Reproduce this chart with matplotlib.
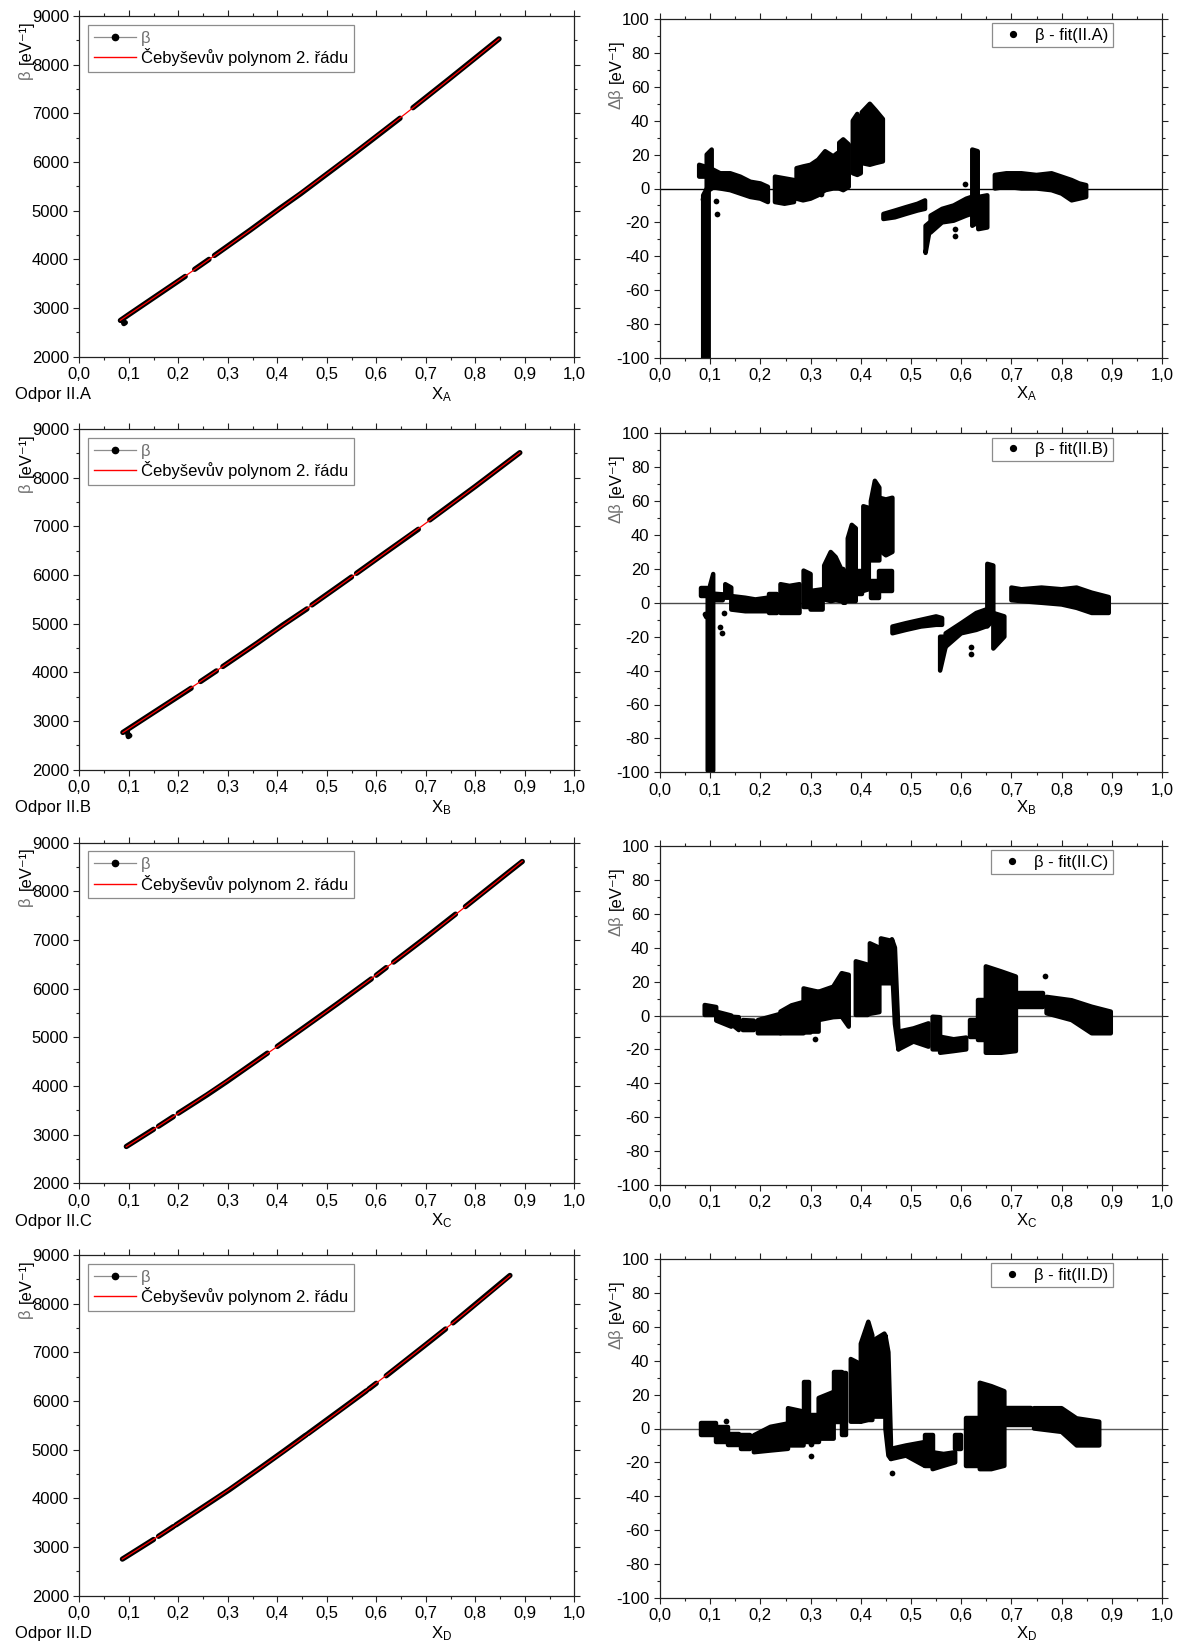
import numpy as np
import matplotlib
matplotlib.use("Agg")
import matplotlib.pyplot as plt
from matplotlib.lines import Line2D
from matplotlib.ticker import MultipleLocator, FuncFormatter

nan = np.nan

plt.rcParams["font.family"] = ["Liberation Sans", "DejaVu Sans"]
plt.rcParams["mathtext.default"] = "regular"
plt.rcParams["font.size"] = 12

panels = ["A", "B", "C", "D"]

# ---- beta(X) runs, NaN separates runs ----
beta_x_A = [0.083, 0.100, 0.150, 0.214, nan, 0.233, 0.262, nan, 0.273, 0.3455, 0.4055,
            0.4467, 0.5535, 0.648, nan, 0.674, 0.749, 0.848]
beta_y_A = [2745, 2865, 3210, 3650, nan, 3795, 4000, nan, 4080, 4603, 5050,
            5345, 6160, 6900, nan, 7115, 7720, 8530]
dip_x_A = [0.088, 0.090, 0.093]
dip_y_A = [2745, 2680, 2700]

beta_x_B = [0.088, 0.150, 0.226, nan, 0.245, 0.277, nan, 0.290, 0.360, 0.411, 0.460, nan,
            0.470, 0.550, nan, 0.560, 0.620, 0.685, nan, 0.708, 0.800, 0.890]
beta_y_B = [2765, 3175, 3675, nan, 3812, 4030, nan, 4120, 4605, 4972, 5305, nan,
            5385, 5960, nan, 6035, 6472, 6940, nan, 7131, 7820, 8514]
dip_x_B = [0.097, 0.099, 0.102]
dip_y_B = [2790, 2680, 2700]

beta_x_C = [0.095, 0.150, nan, 0.160, 0.190, nan, 0.200, 0.2578, 0.298, 0.380, nan,
            0.400, 0.449, 0.520, 0.590, nan, 0.600, 0.620, nan, 0.635, 0.700, 0.760, nan,
            0.780, 0.8687, 0.895]
beta_y_C = [2756, 3110, nan, 3172, 3370, nan, 3440, 3815, 4090, 4675, nan,
            4812, 5165, 5680, 6200, nan, 6275, 6432, nan, 6545, 7050, 7530, nan,
            7685, 8402, 8612]

beta_x_D = [0.087, 0.150, nan, 0.160, 0.190, nan, 0.195, 0.303, 0.369, 0.415, 0.4576, nan,
            0.462, 0.5694, 0.580, nan, 0.585, 0.600, nan, 0.620, 0.6968, 0.740, nan,
            0.755, 0.870]
beta_y_D = [2752, 3155, nan, 3220, 3420, nan, 3452, 4176, 4650, 4985, 5300, nan,
            5330, 6130, 6210, nan, 6248, 6365, nan, 6518, 7132, 7480, nan,
            7605, 8580]

# ---- residuals beta - fit: low/high envelope of each dense run ----
res_x_A = [0.078, 0.089, nan, 0.086, 0.097, nan, 0.093, 0.103, nan,
           0.100, 0.120, 0.140, 0.160, 0.180, 0.200, 0.215, nan,
           0.229, 0.248, 0.267, nan,
           0.272, 0.285, 0.300, 0.315, 0.329, 0.345, 0.354, nan,
           0.357, 0.365, 0.376, nan, 0.384, 0.393, 0.400, nan,
           0.402, 0.418, 0.430, 0.444, nan,
           0.445, 0.468, 0.490, 0.513, 0.528, nan, 0.529, 0.537, nan,
           0.539, 0.562, 0.585, 0.610, 0.620, nan, 0.622, 0.633, nan, 0.634, 0.652, nan,
           0.667, 0.690, 0.720, 0.750, 0.780, 0.800, 0.820, 0.835, 0.849]
res_lo_A = [7, 7, nan, -100, -100, nan, -2, 0, nan,
            1, 0, -1, -3, -5, -6, -8, nan,
            -8, -9, -8, nan,
            -6, -7, -6, -4, -1, 0, 0, nan,
            0, -1, 1, nan, 9, 8, 9, nan,
            15, 14, 15, 16, nan,
            -18, -17, -15, -13, -12, nan, -38, -25, nan,
            -26, -20, -19, -16, -15, nan, -22, -20, nan, -24, -23, nan,
            0, 1, 0, 0, -1, -3, -7, -6, -5]
res_hi_A = [14, 13, nan, -4, 2, nan, 20, 23, nan,
            12, 9, 9, 7, 4, 3, 1, nan,
            7, 6, 5, nan,
            12, 13, 14, 17, 22, 19, 21, nan,
            27, 29, 26, nan, 40, 44, 40, nan,
            45, 50, 46, 41, nan,
            -15, -13, -11, -9, -7, nan, -22, -20, nan,
            -16, -12, -10, -6, -5, nan, 23, 22, nan, -5, -4, nan,
            8, 9, 9, 8, 9, 7, 5, 3, 2]
out_x_A = [0.085, 0.112, 0.114, 0.320, 0.588, 0.588, 0.607]
out_y_A = [-6, -7.5, -15, -3.5, -24, -28, 2.4]

res_x_B = [0.082, 0.093, nan, 0.095, 0.106, nan, 0.106, 0.125, nan, 0.130, 0.142, nan,
           0.142, 0.170, 0.190, 0.214, nan, 0.218, 0.233, nan, 0.240, 0.258, 0.278, nan,
           0.286, 0.300, nan, 0.300, 0.324, nan, 0.327, 0.340, 0.350, 0.361, nan,
           0.365, 0.369, nan, 0.374, 0.382, 0.390, nan, 0.390, 0.403, nan,
           0.405, 0.416, nan, 0.420, 0.437, nan, 0.420, 0.428, 0.437, nan,
           0.437, 0.450, 0.463, nan, 0.437, 0.463, nan,
           0.463, 0.490, 0.520, 0.550, 0.562, nan, 0.558, 0.569, nan,
           0.569, 0.600, 0.630, 0.649, nan, 0.652, 0.664, nan, 0.664, 0.686, nan,
           0.700, 0.720, 0.760, 0.800, 0.830, 0.860, 0.894]
res_lo_B = [4, 4, nan, -99, -99, nan, 1.5, 1.5, nan, 3, 3, nan,
            -4, -5, -5, -5, nan, -6, -6, nan, -6, -6, -6, nan,
            -2.5, -2.5, nan, -4, -4, nan, 2, 1, 1.5, 1, nan,
            0, 0, nan, 1, 1, 1, nan, 5, 5, nan,
            7, 8, nan, 3, 3, nan, 25, 25, 25, nan,
            31, 28, 30, nan, 7, 7, nan,
            -18, -16, -14, -13, -13, nan, -40, -26, nan,
            -26, -18, -16, -14, nan, -14, -10, nan, -27, -20, nan,
            1.5, 1, 0, -1, -3, -6, -6]
res_hi_B = [9, 9, nan, 5, 17, nan, 5.4, 5, nan, 11, 9, nan,
            4, 3, 2, 3, nan, 5, 5, nan, 11, 10, 11, nan,
            19, 17, nan, 7, 8, nan, 22, 30, 27, 20, nan,
            20, 18, nan, 38, 46, 44, nan, 19, 19, nan,
            57, 56, nan, 13, 13, nan, 60, 72, 68, nan,
            62, 61, 62, nan, 19, 19, nan,
            -14, -12, -10, -8, -9, nan, -20, -20, nan,
            -18, -12, -6, -4, nan, 23, 22, nan, -6, -8, nan,
            9, 8, 9, 8, 9, 6, 3.4]
out_x_B = [0.090, 0.092, 0.119, 0.123, 0.127, 0.620, 0.620]
out_y_B = [-6.4, -8, -14, -18, -6, -26, -30]

res_x_C = [0.089, 0.112, nan, 0.112, 0.142, nan, 0.142, 0.157, nan, 0.165, 0.187, nan,
           0.195, 0.240, nan, 0.240, 0.262, 0.286, nan, 0.286, 0.300, nan, 0.300, 0.316, nan,
           0.316, 0.345, 0.362, 0.376, nan, 0.390, 0.414, nan, 0.418, 0.437, nan,
           0.440, 0.462, nan, 0.462, 0.468, 0.475, nan,
           0.475, 0.505, 0.535, nan, 0.543, 0.558, nan, 0.558, 0.585, 0.610, nan,
           0.618, 0.633, nan, 0.633, 0.649, nan, 0.649, 0.680, 0.709, nan,
           0.709, 0.762, nan, 0.770, 0.820, 0.860, 0.898]
res_lo_C = [0.3, 0.3, nan, -3, -6.6, nan, -5, -8.6, nan, -8.6, -8.6, nan,
            -10.5, -10.5, nan, -10.5, -10.5, -10.5, nan, -10, -10, nan, -9.5, -9.5, nan,
            -2.7, -1, -0.7, -6.6, nan, 0.3, 0.3, nan, 1, 2, nan,
            19, 19, nan, 30, -5, -20, nan,
            -20, -15.4, -18.4, nan, -20, -20, nan, -22, -21, -20, nan,
            -12.5, -12.5, nan, -14.5, -14.5, nan, -22, -22, -21, nan,
            5, 5, nan, 1.3, -2.7, -10.5, -10.5]
res_hi_C = [6.2, 5, nan, 2.3, 0, nan, -0.7, -1, nan, -2.7, -3, nan,
            -2.7, 1, nan, 2.3, 6, 8, nan, 16, 15, nan, 15, 14, nan,
            14, 17, 25, 24, nan, 32, 30, nan, 42.6, 40, nan,
            45.5, 44, nan, 45, 40, -10, nan,
            -9.5, -7.6, -4.6, nan, -0.7, -1, nan, -12.5, -14, -13, nan,
            -2.7, -2.7, nan, 9, 9, nan, 29, 26, 23, nan,
            13, 13, nan, 11, 9, 5.2, 2.3]
out_x_C = [0.308, 0.766]
out_y_C = [-14, 23.5]

res_x_D = [0.082, 0.112, nan, 0.112, 0.135, nan, 0.135, 0.157, nan, 0.161, 0.180, nan,
           0.187, 0.220, 0.255, nan, 0.255, 0.286, nan, 0.286, 0.297, nan,
           0.297, 0.316, nan, 0.316, 0.346, nan, 0.346, 0.362, nan, 0.362, 0.370, nan,
           0.380, 0.400, nan, 0.400, 0.415, 0.423, nan, 0.425, 0.447, nan,
           0.449, 0.455, 0.460, nan, 0.460, 0.490, 0.527, nan, 0.527, 0.543, nan,
           0.543, 0.565, 0.588, nan, 0.588, 0.600, nan, 0.610, 0.637, nan,
           0.637, 0.660, 0.686, nan, 0.686, 0.740, nan, 0.745, 0.800, 0.830, 0.875]
res_lo_D = [-4, -4, nan, -8, -8, nan, -10, -10, nan, -12, -12, nan,
            -14, -13, -12, nan, -10, -10, nan, -8, -8, nan,
            -8, -8, nan, -6, -6, nan, 4, 4, nan, -4, -4, nan,
            4, 4, nan, 4, 5, 5, nan, 7, 7, nan,
            0, -16, -18, nan, -18, -16, -22, nan, -22, -22, nan,
            -24, -22, -20, nan, -12, -12, nan, -22, -22, nan,
            -24, -24, -22, nan, 2, 2, nan, 0, -2, -10, -10]
res_hi_D = [3, 3, nan, 1, 1, nan, -3, -3, nan, -4, -4, nan,
            -4, 1, 3, nan, 12, 10, nan, 27.6, 27.6, nan,
            8, 8, nan, 18, 21.6, nan, 33.5, 33.5, nan, 32.5, 32.5, nan,
            41, 38, nan, 50, 63, 55, nan, 52, 56, nan,
            55, 45, -8, nan, -12, -10, -8, nan, -4, -4, nan,
            -14, -15, -14, nan, -4, -4, nan, 6, 6, nan,
            27, 25, 22, nan, 12, 12, nan, 12, 12, 6, 4]
out_x_D = [0.132, 0.300, 0.300, 0.463]
out_y_D = [4.3, -16, -9, -26]

# ---- lookup tables built from the arrays above ----
beta_x = {"A": beta_x_A, "B": beta_x_B, "C": beta_x_C, "D": beta_x_D}
beta_y = {"A": beta_y_A, "B": beta_y_B, "C": beta_y_C, "D": beta_y_D}
dip_x = {"A": dip_x_A, "B": dip_x_B}
dip_y = {"A": dip_y_A, "B": dip_y_B}
res_x = {"A": res_x_A, "B": res_x_B, "C": res_x_C, "D": res_x_D}
res_lo = {"A": res_lo_A, "B": res_lo_B, "C": res_lo_C, "D": res_lo_D}
res_hi = {"A": res_hi_A, "B": res_hi_B, "C": res_hi_C, "D": res_hi_D}
out_x = {"A": out_x_A, "B": out_x_B, "C": out_x_C, "D": out_x_D}
out_y = {"A": out_y_A, "B": out_y_B, "C": out_y_C, "D": out_y_D}
zero_color = {"A": "black", "B": "#4a4a4a", "C": "#5a5a5a", "D": "#5a5a5a"}

W, H = 1183, 1646
fig = plt.figure(figsize=(W / 100, H / 100), dpi=100)


def px_axes(x0, top, w, h):
    return fig.add_axes([x0 / W, 1 - (top + h) / H, w / W, h / H])


comma1 = FuncFormatter(lambda v, p: f"{v:.1f}".replace(".", ","))
intfmt = FuncFormatter(lambda v, p: f"{v:.0f}")
GREY_GREEK = "#707070"
UNIT = "[eV⁻¹]"


def style(ax):
    ax.tick_params(which="both", direction="out", top=True, right=True,
                   labeltop=False, labelright=False, width=0.8, colors="#222222",
                   labelcolor="black", labelsize=12)
    ax.tick_params(which="major", length=4.0, pad=3.5)
    ax.tick_params(which="minor", length=2.3)
    for s in ax.spines.values():
        s.set_linewidth(0.9)
        s.set_color("#222222")
    ax.xaxis.set_major_locator(MultipleLocator(0.1))
    ax.xaxis.set_minor_locator(MultipleLocator(0.05))
    ax.xaxis.set_major_formatter(comma1)
    ax.set_xlim(0, 1)


left_tops = [16, 429, 842.6, 1255]
right_tops = [19, 433.3, 846, 1259]
LX0, LW, LH = 79.3, 495, 340.7
RX0, RW, RH = 660, 502, 339

for i, p in enumerate(panels):
    # ---------- beta vs X ----------
    ax = px_axes(LX0, left_tops[i], LW, LH)
    style(ax)
    ax.set_ylim(2000, 9000)
    ax.yaxis.set_major_locator(MultipleLocator(1000))
    ax.yaxis.set_minor_locator(MultipleLocator(500))
    ax.yaxis.set_major_formatter(intfmt)

    bx = np.array(beta_x[p], float)
    by = np.array(beta_y[p], float)
    ax.plot(bx, by, color="black", lw=3.8, solid_capstyle="round",
            solid_joinstyle="round", zorder=2)
    if p in dip_x:
        ax.plot(dip_x[p], dip_y[p], color="black", lw=3.8, solid_capstyle="round",
                solid_joinstyle="round", zorder=2)
    ok = ~np.isnan(bx)
    cheb = np.polynomial.Chebyshev.fit(bx[ok], by[ok], 2)
    xx = np.linspace(bx[ok].min(), bx[ok].max(), 300)
    ax.plot(xx, cheb(xx), color="#ff0000", lw=0.9, zorder=3)

    h1 = Line2D([], [], color="#8c8c8c", lw=0.9, marker="o", ms=4.5,
                mfc="black", mec="black")
    h2 = Line2D([], [], color="#ff0000", lw=1.0)
    leg = ax.legend([h1, h2], ["β", "Čebyševův polynom 2. řádu"],
                    loc="upper left", bbox_to_anchor=(0.0176, 0.9745),
                    borderaxespad=0, borderpad=0.35, handlelength=2.5,
                    handletextpad=0.3, labelspacing=0.15, fontsize=12,
                    fancybox=False, framealpha=1)
    leg.get_frame().set_edgecolor("#8c8c8c")
    leg.get_frame().set_linewidth(0.9)
    leg.get_texts()[0].set_color(GREY_GREEK)

    ax.text(-0.108, 0.842, "β", rotation=90, ha="center", va="top",
            color=GREY_GREEK, transform=ax.transAxes, fontsize=12)
    ax.text(-0.108, 0.860, UNIT, rotation=90, ha="center", va="bottom",
            transform=ax.transAxes, fontsize=12)
    ax.text(0.71, -0.124, "X$_{\\mathregular{%s}}$" % p, ha="left", va="baseline",
            transform=ax.transAxes, fontsize=12)
    ax.text(-0.130, -0.124, "Odpor II.%s" % p, ha="left", va="baseline",
            transform=ax.transAxes, fontsize=12)

    # ---------- residuals ----------
    ar = px_axes(RX0, right_tops[i], RW, RH)
    style(ar)
    ar.set_ylim(-100, 100)
    ar.yaxis.set_major_locator(MultipleLocator(20))
    ar.yaxis.set_minor_locator(MultipleLocator(10))
    ar.yaxis.set_major_formatter(intfmt)

    ar.axhline(0, color=zero_color[p], lw=1.0, zorder=1)
    band = ar.fill_between(np.array(res_x[p], float), np.array(res_lo[p], float),
                           np.array(res_hi[p], float), facecolor="black",
                           edgecolor="black", lw=3.2, zorder=2)
    band.set_joinstyle("round")
    ar.scatter(out_x[p], out_y[p], s=17, c="black", lw=0, zorder=2)

    h3 = Line2D([], [], ls="none", marker="o", ms=4.2, color="black")
    leg2 = ar.legend([h3], ["β - fit(II.%s)" % p], loc="upper right",
                     bbox_to_anchor=(0.902, 0.987), borderaxespad=0, borderpad=0.25,
                     handlelength=2.0, handletextpad=0.35, fontsize=12,
                     fancybox=False, framealpha=1)
    leg2.get_frame().set_edgecolor("#8c8c8c")
    leg2.get_frame().set_linewidth(0.9)

    ar.text(-0.088, 0.795, "Δβ", rotation=90, ha="center", va="top",
            color=GREY_GREEK, transform=ar.transAxes, fontsize=12)
    ar.text(-0.088, 0.812, UNIT, rotation=90, ha="center", va="bottom",
            transform=ar.transAxes, fontsize=12)
    ar.text(0.71, -0.118, "X$_{\\mathregular{%s}}$" % p, ha="left", va="baseline",
            transform=ar.transAxes, fontsize=12)

fig.savefig("out.png", dpi=100, facecolor="white")
